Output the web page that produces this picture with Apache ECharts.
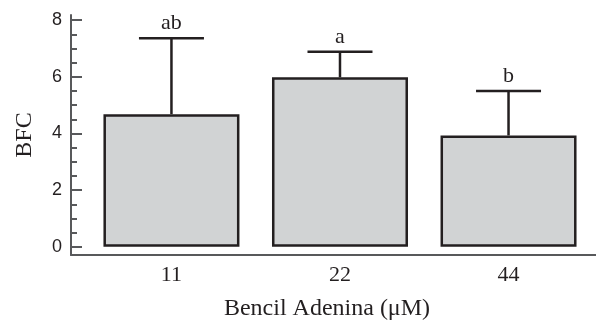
<!DOCTYPE html>
<html>
<head>
<meta charset="utf-8">
<script src="https://cdn.jsdelivr.net/npm/echarts@6/dist/echarts.min.js"></script>
<style>html,body{margin:0;padding:0;background:#fff}#c{width:596px;height:322px}</style>
</head>
<body>
<div id="c"></div>
<script>
const categories = ['11', '22', '44'];
const means = [4.68, 5.98, 3.93];
const errors = [2.68, 0.90, 1.57];
const letters = ['ab', 'a', 'b'];
const yTicks = [0, 2, 4, 6, 8];
const yMinorTicks = [0, 0.5, 1, 1.5, 2, 2.5, 3, 3.5, 4, 4.5, 5, 5.5, 6, 6.5, 7, 7.5, 8];

const dark = '#231f20';
const axisGray = '#58595b';
const serif = '"Liberation Serif", "Times New Roman", serif';
const sans = '"Liberation Sans", Arial, sans-serif';

const chart = echarts.init(document.getElementById('c'), null, {renderer: 'canvas'});
const idx = categories.map((c, i) => i);

chart.setOption({
  animation: false,
  grid: {left: 71, right: 0, top: 15, bottom: 67, outerBoundsMode: 'none', containLabel: false},
  xAxis: {
    type: 'value',
    min: -0.596, max: 2.519,
    splitLine: {show: false},
    axisLine: {onZero: false, lineStyle: {color: axisGray, width: 2}},
    axisTick: {show: false},
    axisLabel: {
      customValues: idx,
      formatter: v => categories[Math.round(v)] || '',
      fontFamily: serif, fontSize: 22, color: dark, margin: 9
    },
    name: 'Bencil Adenina (μM)',
    nameLocation: 'middle',
    nameGap: 42,
    nameTextStyle: {fontFamily: serif, fontSize: 24, color: dark, padding: [0, 13, 0, 0]}
  },
  yAxis: [{
    type: 'value',
    min: -0.29, max: 8.18,
    splitLine: {show: false},
    axisLine: {onZero: false, lineStyle: {color: axisGray, width: 2}},
    axisTick: {customValues: yTicks, inside: true, length: 11, lineStyle: {color: axisGray, width: 2}},
    axisLabel: {customValues: yTicks, fontFamily: sans, fontSize: 18, color: dark, margin: 9},
    name: 'BFC',
    nameLocation: 'middle',
    nameGap: 34,
    nameTextStyle: {fontFamily: serif, fontSize: 24, color: dark}
  }, {
    type: 'value',
    position: 'left',
    min: -0.29, max: 8.18,
    splitLine: {show: false},
    axisLine: {show: false, onZero: false},
    axisTick: {customValues: yMinorTicks, inside: true, length: 6, lineStyle: {color: axisGray, width: 2}},
    axisLabel: {show: false}
  }],
  series: [{
    type: 'bar',
    barWidth: 136,
    data: idx.map(i => [i, means[i]]),
    itemStyle: {color: '#d1d3d4', borderColor: dark, borderWidth: 2.5},
    z: 2
  }, {
    type: 'custom',
    z: 3,
    data: idx.map(i => [i, means[i], means[i] + errors[i]]),
    renderItem: (params, api) => {
      const x = api.value(0);
      const base = api.coord([x, api.value(1)]);
      const top = api.coord([x, api.value(2)]);
      const half = 32.5;
      return {
        type: 'group',
        children: [
          {type: 'line', shape: {x1: base[0], y1: base[1], x2: top[0], y2: top[1]}, style: {stroke: dark, lineWidth: 2.5}},
          {type: 'line', shape: {x1: top[0] - half, y1: top[1], x2: top[0] + half, y2: top[1]}, style: {stroke: dark, lineWidth: 2.5}},
          {type: 'text', style: {text: letters[params.dataIndex], x: top[0], y: top[1] - 4, align: 'center', verticalAlign: 'bottom', font: '22px ' + serif, fill: dark}}
        ]
      };
    }
  }]
});
</script>
</body>
</html>
